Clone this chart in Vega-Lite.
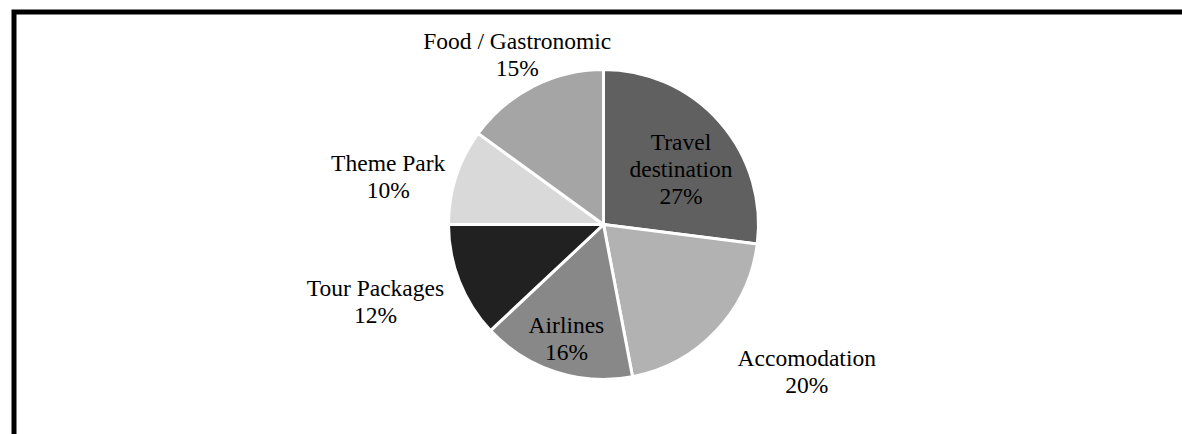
{
  "$schema": "https://vega.github.io/schema/vega-lite/v6.json",
  "width": 1179,
  "height": 425,
  "autosize": {"type": "none"},
  "padding": {"left": 14, "top": 12, "right": -11, "bottom": -3},
  "background": "white",
  "view": {"stroke": "black", "strokeWidth": 5, "fill": "white"},
  "config": {"view": {"stroke": "black", "strokeWidth": 5}},
  "data": {
    "values": [
      {"category": "Travel destination", "label": "Travel\ndestination", "value": 27},
      {"category": "Accomodation", "label": "Accomodation", "value": 20},
      {"category": "Airlines", "label": "Airlines", "value": 16},
      {"category": "Tour Packages", "label": "Tour Packages", "value": 12},
      {"category": "Theme Park", "label": "Theme Park", "value": 10},
      {"category": "Food / Gastronomic", "label": "Food / Gastronomic", "value": 15}
    ]
  },
  "transform": [
    {"window": [{"op": "row_number", "as": "idx"}]},
    {"calculate": "datum.label + '\\n' + datum.value + '%'", "as": "text"}
  ],
  "encoding": {
    "theta": {"field": "value", "type": "quantitative", "stack": true},
    "order": {"field": "idx", "type": "quantitative"}
  },
  "layer": [
    {
      "mark": {"type": "arc", "outerRadius": 155, "stroke": "white", "strokeWidth": 3},
      "encoding": {
        "color": {
          "field": "category",
          "type": "nominal",
          "scale": {
            "domain": ["Travel destination", "Accomodation", "Airlines", "Tour Packages", "Theme Park", "Food / Gastronomic"],
            "range": ["#606060", "#b2b2b2", "#888888", "#212121", "#d9d9d9", "#a5a5a5"]
          },
          "legend": null
        }
      }
    },
    {
      "mark": {"type": "text", "radius": 94, "dx": 7, "dy": -19, "font": "Liberation Serif", "fontSize": 23.5, "lineHeight": 27, "lineBreak": "\n", "color": "black", "align": "center", "baseline": "middle"},
      "encoding": {"text": {"condition": {"test": "datum.category === 'Travel destination'", "field": "text", "type": "nominal"}, "value": ""}}
    },
    {
      "mark": {"type": "text", "radius": 250, "dx": 21, "dy": -37, "font": "Liberation Serif", "fontSize": 23.5, "lineHeight": 27, "lineBreak": "\n", "color": "black", "align": "center", "baseline": "middle"},
      "encoding": {"text": {"condition": {"test": "datum.category === 'Accomodation'", "field": "text", "type": "nominal"}, "value": ""}}
    },
    {
      "mark": {"type": "text", "radius": 120, "dy": -13, "font": "Liberation Serif", "fontSize": 23.5, "lineHeight": 27, "lineBreak": "\n", "color": "black", "align": "center", "baseline": "middle"},
      "encoding": {"text": {"condition": {"test": "datum.category === 'Airlines'", "field": "text", "type": "nominal"}, "value": ""}}
    },
    {
      "mark": {"type": "text", "radius": 241, "dx": -4, "dy": -24, "font": "Liberation Serif", "fontSize": 23.5, "lineHeight": 27, "lineBreak": "\n", "color": "black", "align": "center", "baseline": "middle"},
      "encoding": {"text": {"condition": {"test": "datum.category === 'Tour Packages'", "field": "text", "type": "nominal"}, "value": ""}}
    },
    {
      "mark": {"type": "text", "radius": 219, "dx": -7, "dy": 7, "font": "Liberation Serif", "fontSize": 23.5, "lineHeight": 27, "lineBreak": "\n", "color": "black", "align": "center", "baseline": "middle"},
      "encoding": {"text": {"condition": {"test": "datum.category === 'Theme Park'", "field": "text", "type": "nominal"}, "value": ""}}
    },
    {
      "mark": {"type": "text", "radius": 190, "dy": -13, "font": "Liberation Serif", "fontSize": 23.5, "lineHeight": 27, "lineBreak": "\n", "color": "black", "align": "center", "baseline": "middle"},
      "encoding": {"text": {"condition": {"test": "datum.category === 'Food / Gastronomic'", "field": "text", "type": "nominal"}, "value": ""}}
    }
  ]
}
